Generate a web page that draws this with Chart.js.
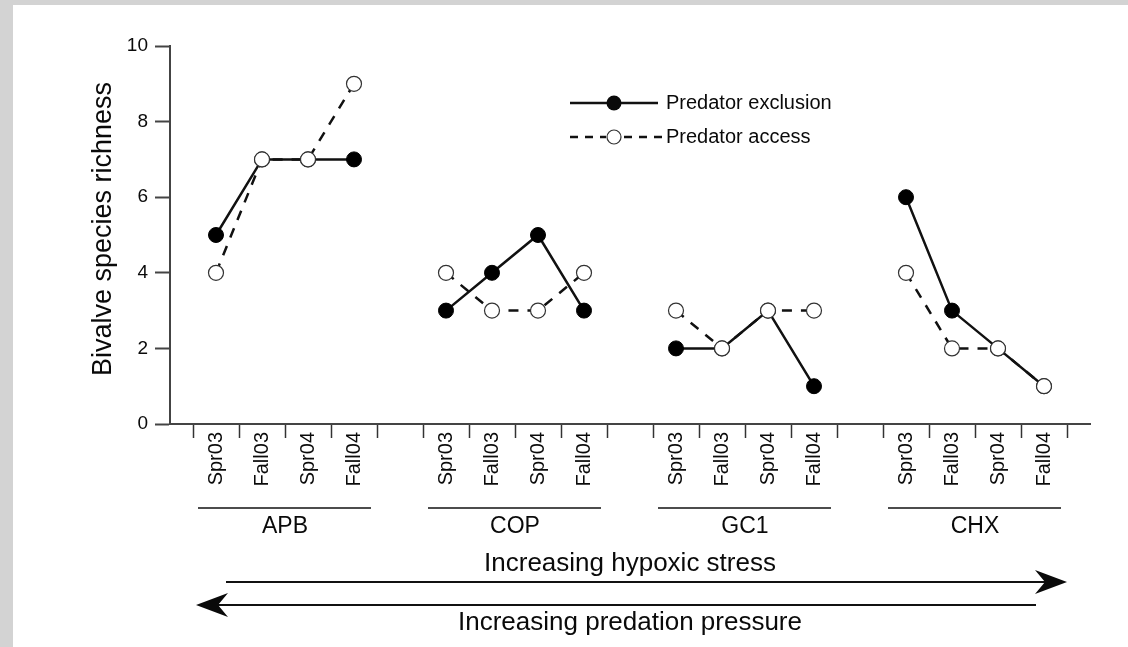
<!DOCTYPE html>
<html>
<head>
<meta charset="utf-8">
<script src="https://cdn.jsdelivr.net/npm/chart.js@4.4.1/dist/chart.umd.min.js"></script>
<style>
  html, body { margin: 0; padding: 0; }
  body { width: 1128px; height: 647px; background: #d3d3d3; position: relative; overflow: hidden; }
  #quadro { position: absolute; left: 13px; top: 5px; width: 1115px; height: 642px; background: #fff; }
</style>
</head>
<body>
<div id="quadro"><canvas id="grafico" width="1115" height="642"></canvas></div>
<script>
// Locais (ordem de estresse hipóxico crescente) e coletas
const locais = ['APB', 'COP', 'GC1', 'CHX'];
const coletas = ['Spr03', 'Fall03', 'Spr04', 'Fall04'];

// Riqueza de espécies de bivalves - exclusão de predadores (uma linha por local)
const exclusaoAPB = [5, 7, 7, 7];
const exclusaoCOP = [3, 4, 5, 3];
const exclusaoGC1 = [2, 2, 3, 1];
const exclusaoCHX = [6, 3, 2, 1];

// Riqueza de espécies de bivalves - acesso de predadores
const acessoAPB = [4, 7, 7, 9];
const acessoCOP = [4, 3, 3, 4];
const acessoGC1 = [3, 2, 3, 3];
const acessoCHX = [4, 2, 2, 1];

const ticksY = [0, 2, 4, 6, 8, 10];

// Monta o eixo: uma célula vazia antes, entre e depois de cada local
const rotulos = ['', ...locais.flatMap(() => [...coletas, ''])];
const montarSerie = grupos => [null, ...grupos.flatMap(g => [...g, null])];

const fonte = '"Liberation Sans", Arial, Helvetica, sans-serif';
const corTexto = '#0a0a0a';

// Desenha uma seta horizontal com ponta farpada
const desenharSeta = (ctx, x0, x1, y) => {
  const dir = Math.sign(x1 - x0);
  ctx.beginPath();
  ctx.moveTo(x0, y);
  ctx.lineTo(x1 - dir * 12, y);
  ctx.lineWidth = 2;
  ctx.stroke();
  ctx.beginPath();
  ctx.moveTo(x1, y);
  ctx.lineTo(x1 - dir * 32, y - 12);
  ctx.lineTo(x1 - dir * 22, y);
  ctx.lineTo(x1 - dir * 32, y + 12);
  ctx.closePath();
  ctx.fill();
};

// Plugin com título do eixo, nomes dos locais, setas e legenda
const anotacoes = {
  id: 'anotacoes',
  afterDraw(chart) {
    const { ctx, chartArea: area, scales: { x } } = chart;
    ctx.save();
    ctx.fillStyle = corTexto;
    ctx.strokeStyle = '#111';

    // Título do eixo Y
    ctx.save();
    ctx.translate(area.left - 66, (area.top + area.bottom) / 2 - 6);
    ctx.rotate(-Math.PI / 2);
    ctx.font = '27px ' + fonte;
    ctx.textAlign = 'center';
    ctx.textBaseline = 'middle';
    ctx.fillText('Bivalve species richness', 0, 0);
    ctx.restore();

    // Linha e nome de cada local
    ctx.textAlign = 'center';
    ctx.textBaseline = 'middle';
    locais.forEach((local, i) => {
      const primeiro = 1 + i * 5;
      const xi = x.getPixelForValue(primeiro - 0.5);
      const xf = x.getPixelForValue(primeiro + 3.5);
      ctx.beginPath();
      ctx.moveTo(xi + 5, area.bottom + 84);
      ctx.lineTo(xf - 6, area.bottom + 84);
      ctx.lineWidth = 1.5;
      ctx.stroke();
      ctx.font = '23px ' + fonte;
      ctx.fillText(local, (xi + xf) / 2, area.bottom + 103);
    });

    // Setas de gradientes
    const inicio = x.getPixelForValue(0.5);
    const fim = x.getPixelForValue(rotulos.length - 1.5);
    const meio = (inicio + fim) / 2;
    ctx.font = '26px ' + fonte;
    ctx.fillText('Increasing hypoxic stress', meio, area.bottom + 140);
    desenharSeta(ctx, inicio + 33, fim, area.bottom + 158);
    desenharSeta(ctx, fim - 31, inicio + 3, area.bottom + 181);
    ctx.fillText('Increasing predation pressure', meio, area.bottom + 199);

    // Legenda
    const lx = area.left + 400;
    const y1 = area.top + 57;
    const y2 = area.top + 91;
    ctx.lineWidth = 2.5;
    ctx.beginPath();
    ctx.moveTo(lx, y1);
    ctx.lineTo(lx + 88, y1);
    ctx.stroke();
    ctx.beginPath();
    ctx.arc(lx + 44, y1, 7.5, 0, Math.PI * 2);
    ctx.fill();

    ctx.setLineDash([8, 7]);
    ctx.beginPath();
    ctx.moveTo(lx, y2);
    ctx.lineTo(lx + 36, y2);
    ctx.moveTo(lx + 54, y2);
    ctx.lineTo(lx + 92, y2);
    ctx.stroke();
    ctx.setLineDash([]);
    ctx.beginPath();
    ctx.arc(lx + 44, y2, 7, 0, Math.PI * 2);
    ctx.fillStyle = '#fff';
    ctx.fill();
    ctx.lineWidth = 1.2;
    ctx.strokeStyle = '#333';
    ctx.stroke();

    ctx.fillStyle = corTexto;
    ctx.font = '20px ' + fonte;
    ctx.textAlign = 'left';
    ctx.fillText('Predator exclusion', lx + 96, y1);
    ctx.fillText('Predator access', lx + 96, y2);
    ctx.restore();
  }
};

const canvas = document.getElementById('grafico');
const ctx = canvas.getContext('2d');

const grafico = new Chart(ctx, {
  type: 'line',
  data: {
    labels: rotulos,
    datasets: [
      {
        label: 'Predator access',
        data: montarSerie([acessoAPB, acessoCOP, acessoGC1, acessoCHX]),
        borderColor: '#111',
        borderWidth: 2.5,
        borderDash: [10, 9],
        pointRadius: 7.5,
        pointBackgroundColor: '#fff',
        pointBorderColor: '#333',
        pointBorderWidth: 1.2,
        spanGaps: false,
        tension: 0
      },
      {
        label: 'Predator exclusion',
        data: montarSerie([exclusaoAPB, exclusaoCOP, exclusaoGC1, exclusaoCHX]),
        borderColor: '#111',
        borderWidth: 2.5,
        pointRadius: 7.5,
        pointBackgroundColor: '#000',
        pointBorderColor: '#000',
        pointBorderWidth: 1,
        spanGaps: false,
        tension: 0
      }
    ]
  },
  options: {
    responsive: false,
    animation: false,
    devicePixelRatio: 1,
    layout: { padding: { top: 41, right: 38, bottom: 0, left: 0 } },
    scales: {
      x: {
        type: 'category',
        offset: false,
        afterFit: escala => { escala.height = 223; },
        grid: {
          offset: true,
          drawOnChartArea: false,
          tickLength: 14,
          tickWidth: 1.5,
          tickColor: '#333'
        },
        border: { color: '#444', width: 2 },
        ticks: {
          autoSkip: false,
          minRotation: 90,
          maxRotation: 90,
          padding: -6,
          color: corTexto,
          font: { family: fonte, size: 20 }
        }
      },
      y: {
        min: 0,
        max: 10,
        afterFit: escala => { escala.width = 157; },
        afterBuildTicks: escala => { escala.ticks = ticksY.map(v => ({ value: v })); },
        grid: {
          drawOnChartArea: false,
          tickLength: 15,
          tickWidth: 2,
          tickColor: '#444'
        },
        border: { color: '#444', width: 2 },
        ticks: {
          padding: 7,
          color: corTexto,
          font: { family: fonte, size: 19 }
        }
      }
    },
    plugins: {
      legend: { display: false },
      tooltip: { enabled: false }
    }
  },
  plugins: [anotacoes]
});
</script>
</body>
</html>
